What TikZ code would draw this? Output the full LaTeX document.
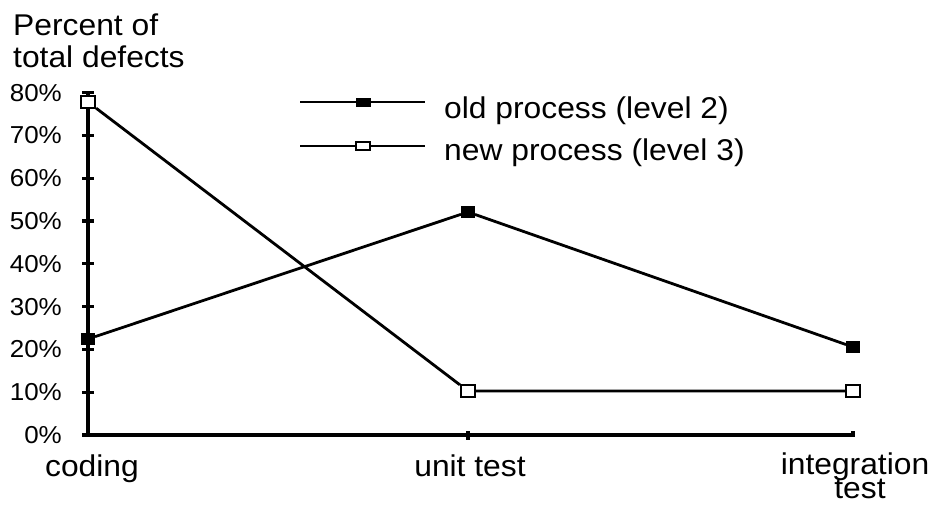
\documentclass[tikz,border=0pt]{standalone}
\usepackage{fontspec}
\setmainfont[FakeStretch=1.06]{Liberation Sans}
\begin{document}
\begin{tikzpicture}[x=1pt,y=-1pt,
  axis/.style={line width=3.3pt},
  dataline/.style={line width=2.8pt},
  oldmark/.style={rectangle,draw=black,fill=black,line width=1pt,inner sep=0pt,minimum width=13pt,minimum height=11pt},
  newmark/.style={rectangle,draw=black,fill=white,line width=2.2pt,inner sep=0pt,minimum width=14pt,minimum height=12pt},
  keymark/.style={minimum width=14pt,minimum height=8pt},
  ticklabel/.style={anchor=east,inner sep=0pt,font=\fontsize{24.5}{25}\selectfont},
  bigtext/.style={inner sep=0pt,font=\fontsize{30}{32}\selectfont}]
\useasboundingbox (0,0) rectangle (936,504);
\draw[axis] (88,435)--(88,93);
\draw[axis] (88,435)--(853,435);
\foreach \p [evaluate=\p as \v using int(10*\p)] in {0,...,8}{
  \draw[axis] (82,{435-42.8*\p})--(94,{435-42.8*\p});
  \node[ticklabel] (t\p) at (62,{435-42.8*\p}) {\v\%};
}
\draw[axis] (468,431)--(468,440) (853,431)--(853,437);
\node[bigtext,anchor=base west] (title) at (13,35) {Percent of};
\node[bigtext,anchor=base west] (title2) at (13,67) {total defects};
\node[bigtext,anchor=base] (coding) at (92,476) {coding};
\node[bigtext,anchor=base] (unit) at (470,476) {unit test};
\node[bigtext,anchor=base] (integ) at (855,474) {integration};
\node[bigtext,anchor=base] (integtest) at (860,498) {test};
\node[oldmark] (o1) at (88,339) {};
\node[oldmark] (o2) at (468,212) {};
\node[oldmark] (o3) at (853,347) {};
\node[newmark] (n1) at (88,102) {};
\node[newmark] (n2) at (468,391) {};
\node[newmark] (n3) at (853,391) {};
\draw[dataline] (o1)--(o2)--(o3);
\draw[dataline] (n1)--(n2)--(n3);
\coordinate (ka) at (300,102);
\coordinate (kb) at (425,102);
\coordinate (kc) at (300,146);
\coordinate (kd) at (425,146);
\node[oldmark,keymark] (kold) at (363,102) {};
\node[newmark,keymark] (knew) at (363,146) {};
\draw[dataline] (ka)--(kold)--(kb) (kc)--(knew)--(kd);
\node[bigtext,anchor=base west] (lold) at (444,118) {old process (level 2)};
\node[bigtext,anchor=base west] (lnew) at (444,160) {new process (level 3)};
\end{tikzpicture}
\end{document}
